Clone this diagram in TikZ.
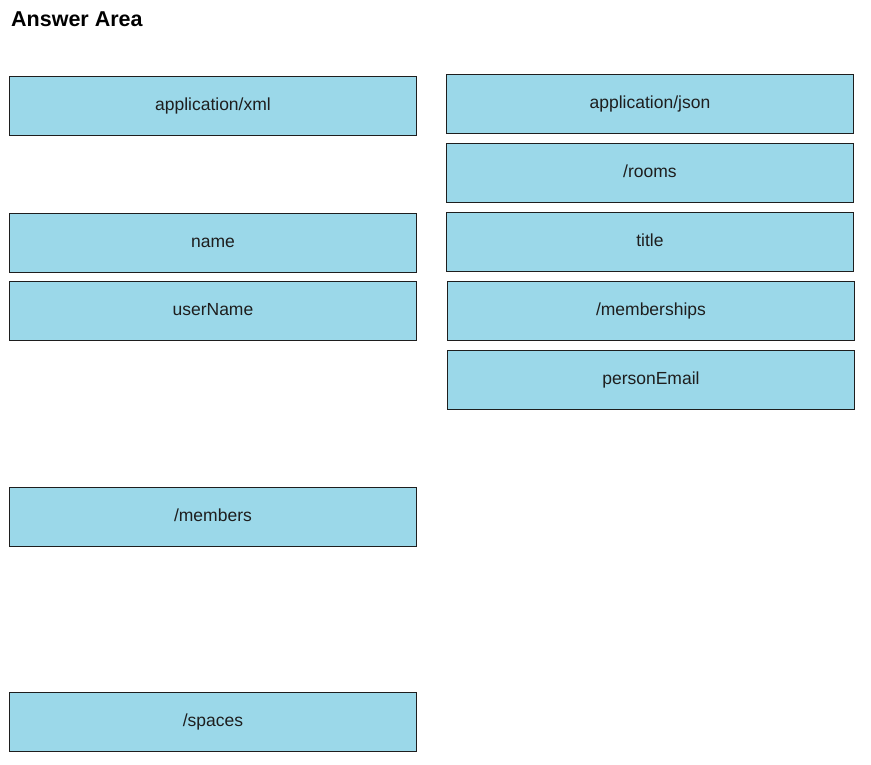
\documentclass[tikz,border=0pt]{standalone}
\usepackage{fontspec}
\setmainfont{Liberation Sans}
\usetikzlibrary{positioning}
\definecolor{answerblue}{RGB}{155,216,233}
\definecolor{inkdark}{RGB}{30,30,30}
\tikzset{
  answer/.style={draw=inkdark, line width=0.9pt, fill=answerblue, text=inkdark,
    font=\fontsize{17.5}{20}\selectfont, minimum width=407, minimum height=59,
    text height=12.5pt, text depth=3.5pt, inner sep=0pt, anchor=north west},
  heading/.style={font=\fontsize{21.5}{24}\selectfont\bfseries, text=black,
    anchor=base west, inner sep=0pt},
}
\begin{document}
\begin{tikzpicture}[x=1pt, y=1pt]
  \useasboundingbox (0,0) rectangle (871,-765);
  % title
  \node[heading] (title) at (11,-27) {Answer Area};
  % left column
  \foreach \y/\nm/\lbl in {76/xml/{application/xml}, 213/name/name, 281/user/userName,
      487/members/{/members}, 692/spaces/{/spaces}} {
    \node[answer] (\nm) at (9,-\y) {\lbl};
  }
  % right column
  \foreach \x/\y/\nm/\lbl in {446/74/json/{application/json}, 446/143/rooms/{/rooms},
      446/212/ttl/title, 447/281/memberships/{/memberships}, 447/350/email/personEmail} {
    \node[answer] (\nm) at (\x,-\y) {\lbl};
  }
\end{tikzpicture}
\end{document}
